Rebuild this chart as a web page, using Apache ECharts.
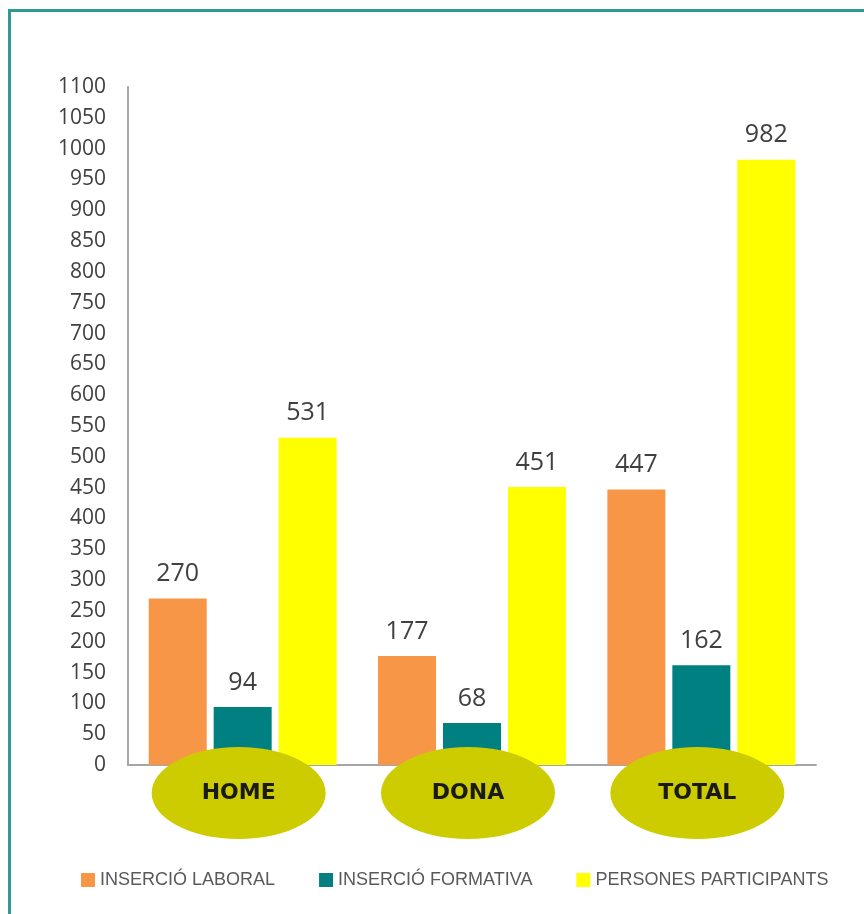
<!DOCTYPE html>
<html>
<head>
<meta charset="utf-8">
<script src="https://cdn.jsdelivr.net/npm/echarts@6/dist/echarts.min.js"></script>
<style>
  html, body { margin: 0; padding: 0; background: #fff; overflow: hidden; }
  #frame { position: absolute; left: 8px; top: 9px; width: 900px; height: 950px;
           border-top: 3px solid #2f9a93; border-left: 3px solid #2f9a93; }
  #chart { position: absolute; left: 0; top: 0; width: 864px; height: 914px; }
</style>
</head>
<body>
<div id="frame"></div>
<div id="chart"></div>
<script>
  // categories and values
  var categories = ['HOME', 'DONA', 'TOTAL'];
  var laboral = [270, 177, 447];
  var formativa = [94, 68, 162];
  var participants = [531, 451, 982];
  var seriesNames = ['INSERCIÓ LABORAL', 'INSERCIÓ FORMATIVA', 'PERSONES PARTICIPANTS'];

  var chartDom = document.getElementById('chart');
  var myChart = echarts.init(chartDom);

  var barLabel = {
    show: true,
    position: 'top',
    distance: 12,
    color: '#404040',
    fontSize: 25,
    fontFamily: 'Open Sans'
  };

  var option = {
    animation: false,
    grid: { left: 128, right: 48, top: 87, bottom: 149 },
    legend: {
      data: seriesNames,
      left: 76,
      top: 866,
      itemWidth: 14,
      itemHeight: 14,
      itemGap: 44,
      icon: 'rect',
      textStyle: { color: '#595959', fontSize: 18, fontFamily: 'Liberation Sans' }
    },
    xAxis: {
      type: 'category',
      data: categories,
      axisLine: { lineStyle: { color: '#a6a6a6', width: 2 } },
      axisTick: { show: false },
      axisLabel: { show: false }
    },
    yAxis: {
      type: 'value',
      min: 0,
      max: 1100,
      interval: 50,
      axisLine: { show: true, lineStyle: { color: '#a6a6a6', width: 2 } },
      axisTick: { show: false },
      splitLine: { show: false },
      axisLabel: {
        color: '#404040', fontSize: 21, fontFamily: 'Open Sans', margin: 22,
        formatter: function (v) { return String(v); }
      }
    },
    series: [
      {
        name: seriesNames[0],
        type: 'bar',
        data: laboral,
        barWidth: 58,
        barGap: '12%',
        color: '#f79646',
        label: barLabel
      },
      {
        name: seriesNames[1],
        type: 'bar',
        data: formativa,
        barWidth: 58,
        color: '#008080',
        label: barLabel
      },
      {
        name: seriesNames[2],
        type: 'bar',
        data: participants,
        barWidth: 58,
        color: '#ffff00',
        label: barLabel
      },
      {
        // olive ellipses under the axis with the category names
        type: 'custom',
        z: 10,
        clip: false,
        silent: true,
        data: categories.map(function (c, i) { return [i, 0]; }),
        renderItem: function (params, api) {
          var p = api.coord([api.value(0), 0]);
          var cx = p[0] - 4;
          var cy = p[1] + 28;
          return {
            type: 'group',
            children: [
              {
                type: 'ellipse',
                shape: { cx: cx, cy: cy, rx: 87, ry: 46 },
                style: { fill: '#cccc00' }
              },
              {
                type: 'text',
                style: {
                  x: cx,
                  y: cy,
                  text: categories[params.dataIndex],
                  align: 'center',
                  verticalAlign: 'middle',
                  fill: '#1a1a1a',
                  font: 'bold 22px "DejaVu Sans"'
                }
              }
            ]
          };
        }
      }
    ]
  };

  option && myChart.setOption(option);
</script>
</body>
</html>
